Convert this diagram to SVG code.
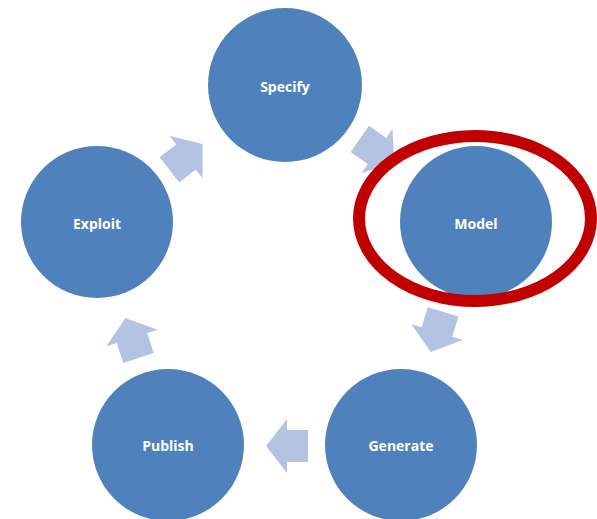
<svg xmlns="http://www.w3.org/2000/svg" width="597" height="519" viewBox="0 0 597 519">
<defs>
<style>
.node{fill:#4f81bd}
.lbl{fill:#ffffff;font-family:"Open Sans","Liberation Sans",sans-serif;font-weight:bold;font-size:14px;text-anchor:middle;dominant-baseline:central}
.arr{fill:#b4c3e2}
</style>
<path id="ar" d="M -21,-16 L 0,-16 L 0,-27 L 21,0 L 0,27 L 0,16 L -21,16 Z"/>
</defs>
<rect width="597" height="519" fill="#ffffff"/>
<g id="connectors" class="arr">
<use href="#ar" transform="translate(377,151) rotate(35)"/>
<use href="#ar" transform="translate(437,332) rotate(107)"/>
<use href="#ar" transform="translate(287,446) rotate(180)"/>
<use href="#ar" transform="translate(132,338) rotate(252)"/>
<use href="#ar" transform="translate(186,157) rotate(-38)"/>
</g>
<g id="specify"><circle class="node" cx="285" cy="85" r="77"/><text class="lbl" x="285" y="86">Specify</text></g>
<g id="model"><circle class="node" cx="476" cy="222" r="76"/><text class="lbl" x="476" y="223">Model</text></g>
<g id="generate"><circle class="node" cx="401" cy="445" r="76"/><text class="lbl" x="401" y="445">Generate</text></g>
<g id="publish"><circle class="node" cx="168" cy="445" r="76"/><text class="lbl" x="168" y="445">Publish</text></g>
<g id="exploit"><circle class="node" cx="97" cy="222" r="76"/><text class="lbl" x="97" y="223">Exploit</text></g>
<ellipse id="highlight" cx="475" cy="218.5" rx="116" ry="82.5" fill="none" stroke="#c00000" stroke-width="12"/>
</svg>
